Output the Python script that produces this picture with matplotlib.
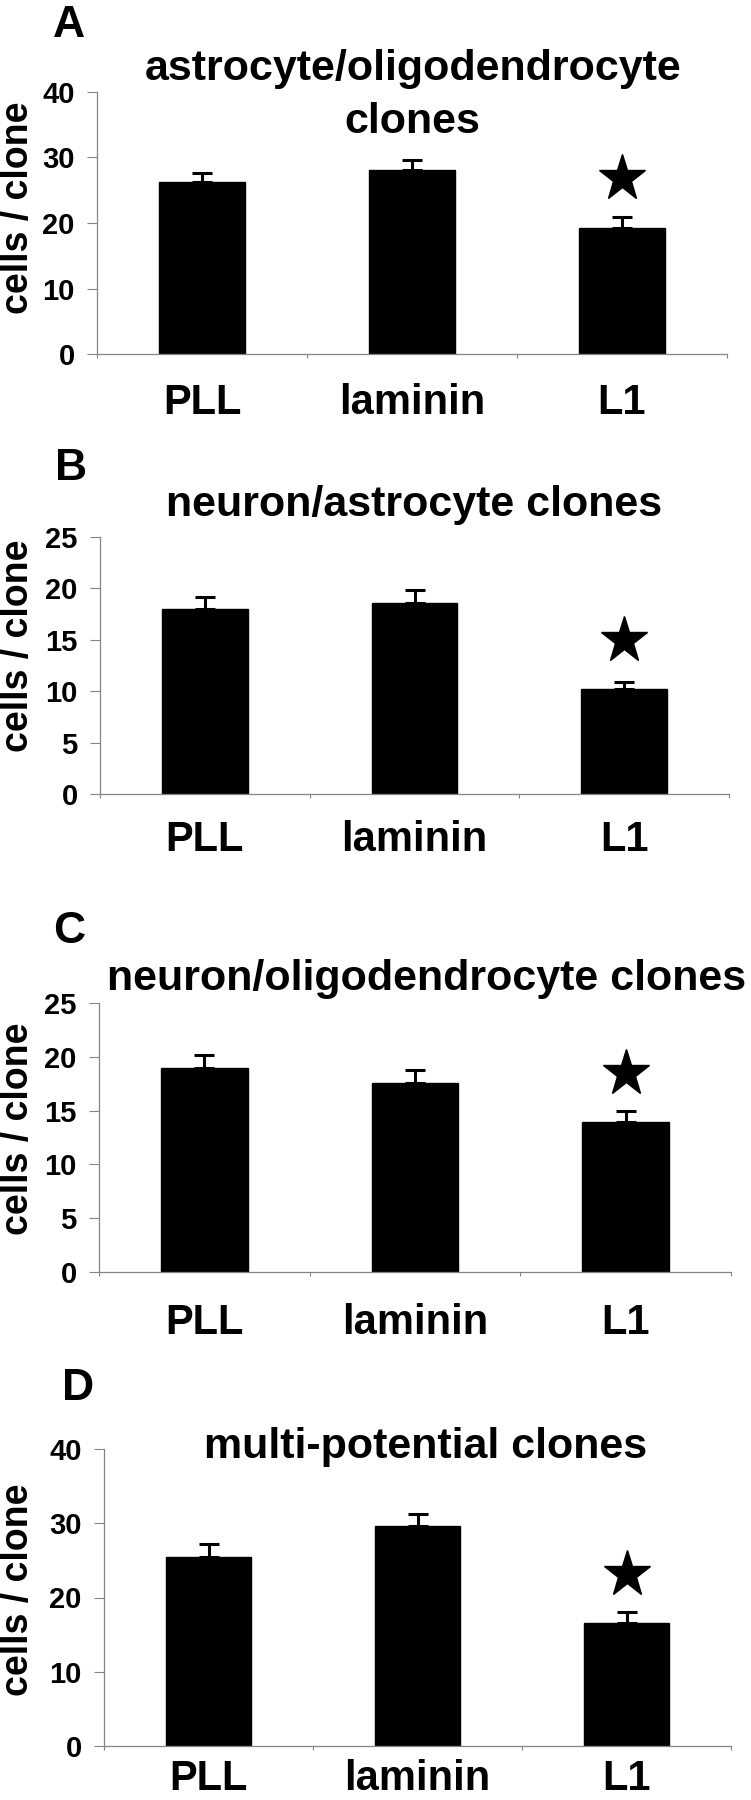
import matplotlib
matplotlib.use("Agg")
import matplotlib.pyplot as plt
import numpy as np

categories = ["PLL", "laminin", "L1"]
panel_letters = ["A", "B", "C", "D"]
titles = ["astrocyte/oligodendrocyte\nclones", "neuron/astrocyte clones",
          "neuron/oligodendrocyte clones", "multi-potential clones"]
means_A = [26.3, 28.1, 19.2]
err_A = [1.4, 1.5, 1.7]
means_B = [18.0, 18.6, 10.2]
err_B = [1.2, 1.2, 0.7]
means_C = [19.0, 17.6, 13.9]
err_C = [1.2, 1.2, 1.1]
means_D = [25.4, 29.6, 16.6]
err_D = [1.8, 1.6, 1.4]
star_y = [26.9, 15.0, 18.5, 23.1]
ymax = [40, 25, 25, 40]
ystep = [10, 5, 5, 10]
ylabel = "cells / clone"

FONT = ["Liberation Sans", "DejaVu Sans"]

W, H = 751, 1800
fig = plt.figure(figsize=(W / 100, H / 100), dpi=100)

# axes boxes in pixels: left, right, top(ymax), bottom(0)
boxes = [(97, 727, 92, 354), (100, 729, 537, 794), (99, 731, 1003, 1272), (104, 731, 1449, 1746)]
xlab_pad = [21, 18.7, 22, 9.5]
letter_pos = [(53, 37), (55, 480), (53, 943), (62, 1400)]
title_pos = [[(413, 80), (412, 133)], [(414, 516)], [(427, 990)], [(426, 1458)]]
ylab_pos = [(18, 208), (18, 646), (18, 1129), (18, 1590)]
means_all = [means_A, means_B, means_C, means_D]
err_all = [err_A, err_B, err_C, err_D]
gray = "#858585"

for i in range(4):
    l, r, t, b = boxes[i]
    ax = fig.add_axes([l / W, 1 - b / H, (r - l) / W, (b - t) / H])
    x = np.arange(len(categories))
    m = means_all[i]
    e = err_all[i]
    ax.bar(x, m, width=0.41, color="black", edgecolor="black", zorder=2)
    ax.errorbar(x, m, yerr=[np.zeros(len(e)), e], fmt="none", ecolor="black",
                elinewidth=2.2, capsize=7.2, capthick=2.2, zorder=3)
    ax.plot([2], [star_y[i]], marker="*", markersize=35, color="black", linestyle="none", zorder=4)
    ax.set_xlim(-0.5, 2.5)
    ax.set_ylim(0, ymax[i])
    yt = np.arange(0, ymax[i] + 0.1, ystep[i])
    ax.set_yticks(yt)
    ax.set_yticklabels([str(int(v)) for v in yt], fontsize=21, fontweight="bold", family=FONT)
    ax.set_xticks(x)
    ax.set_xticklabels(categories, fontsize=30, fontweight="bold", family=FONT)
    ax.set_xticks([-0.5, 0.5, 1.5, 2.5], minor=True)
    ax.tick_params(axis="x", which="major", length=0, pad=xlab_pad[i])
    ax.tick_params(axis="x", which="minor", length=3, width=0.8, color=gray)
    ax.tick_params(axis="y", length=7, width=0.8, color=gray, pad=9)
    for s in ["top", "right"]:
        ax.spines[s].set_visible(False)
    for s in ["left", "bottom"]:
        ax.spines[s].set_color(gray)
        ax.spines[s].set_linewidth(0.9)
    ax.patch.set_alpha(0)

    lx, ly = letter_pos[i]
    fig.text(lx / W, 1 - ly / H, panel_letters[i], fontsize=32, fontweight="bold",
             family=FONT, ha="left", va="baseline")
    lines = titles[i].split("\n")
    for (tx, ty), line in zip(title_pos[i], lines):
        fig.text(tx / W, 1 - ty / H, line, fontsize=31, fontweight="bold",
                 family=FONT, ha="center", va="baseline")
    yx, yy = ylab_pos[i]
    fig.text(yx / W, 1 - yy / H, ylabel, fontsize=27, fontweight="bold", family=FONT,
             rotation=90, ha="center", va="center")

fig.savefig("out.png", dpi=100, facecolor="white")
